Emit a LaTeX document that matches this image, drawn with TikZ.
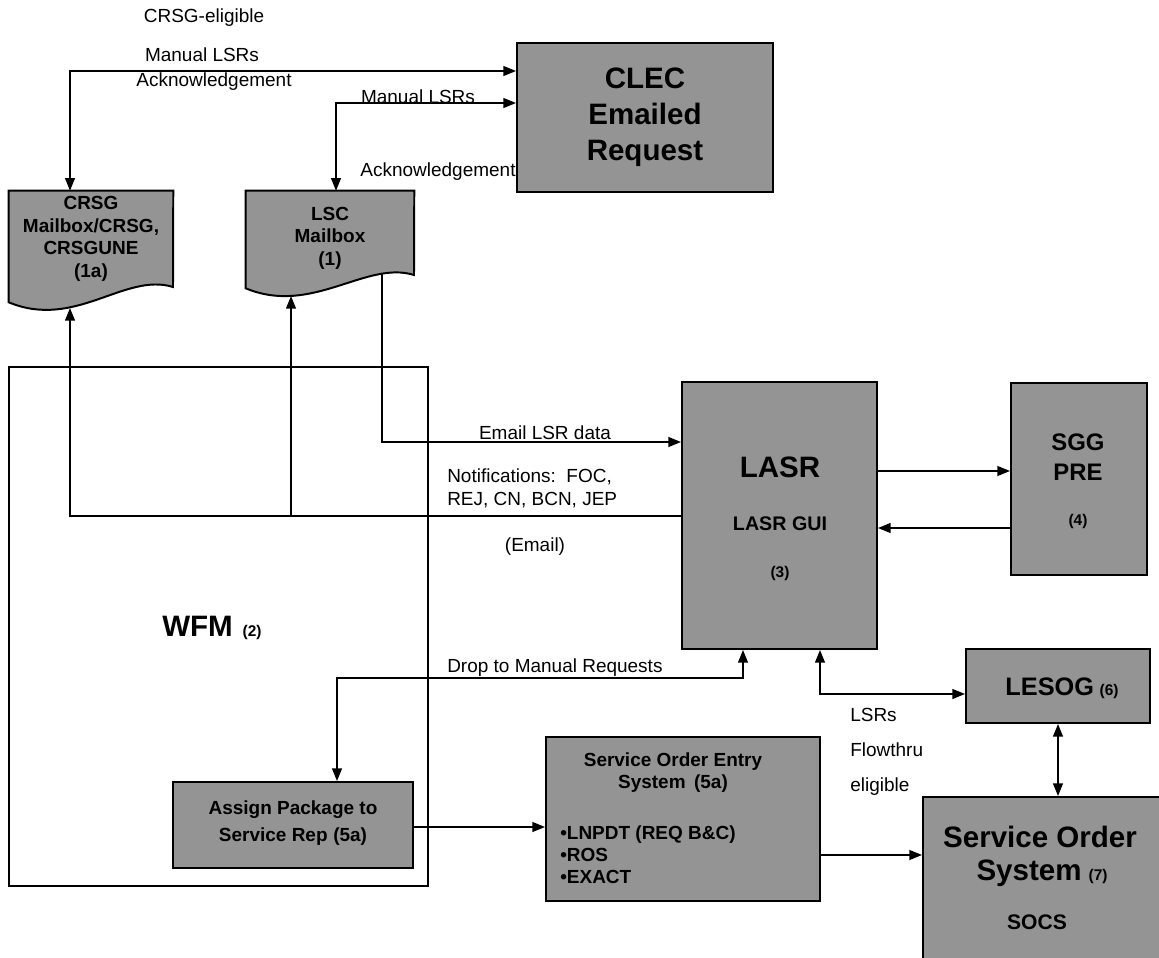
\documentclass[tikz,border=0pt]{standalone}
\usepackage{fontspec}
\setmainfont{Liberation Sans}
\usetikzlibrary{fit,arrows.meta,backgrounds}
\tikzstyle{sys} = [draw=black, line width=1.4pt, fill=black!42, inner sep=0pt]
\tikzstyle{mail} = [inner sep=0pt]
\tikzstyle{frame} = [draw=black, line width=0.9pt, inner sep=0pt]
\tikzstyle{wire} = [line width=1.2pt]
\tikzstyle{lbl} = [font=\fontsize{13.5}{16}\selectfont, inner sep=0pt]
\tikzstyle{mailtext} = [font=\bfseries\fontsize{13.5}{16}\selectfont, align=center, inner sep=0pt]
\tikzstyle{boxtext} = [font=\bfseries\fontsize{13.5}{15.6}\selectfont, align=center, inner sep=0pt]
\tikzstyle{bigtext} = [font=\bfseries\fontsize{21}{25.5}\selectfont, align=center, inner sep=0pt]
\tikzstyle{numtext} = [font=\bfseries\fontsize{11}{13}\selectfont, inner sep=0pt]

\begin{document}
\begin{tikzpicture}[x=0.025cm, y=-0.025cm, >={Triangle[length=9pt,width=7pt]}]
\useasboundingbox (0,0) rectangle (1159,958);

% WFM frame
\node[frame, fit={(9,367) (428,886)}] (wfm) {};
\node[anchor=west, font=\bfseries\fontsize{21}{25}\selectfont, inner sep=0pt] (wfmtitle) at (162,628)
    {WFM\hspace{7pt}{\fontsize{11}{13}\selectfont (2)}};

% mailboxes
\node[mail, fit={(9,191) (173,302)}] (crsg) {};
\node[mail, fit={(246,191) (414,288)}] (lsc) {};
\begin{scope}[on background layer]
\filldraw[sys] (crsg.north west) -- (crsg.north east) -- (173,287)
    .. controls (125,272) and (75,330) .. (crsg.south west) -- cycle;
\filldraw[sys] (lsc.north west) -- (lsc.north east) -- (414,275)
    .. controls (366,260) and (312,316) .. (lsc.south west) -- cycle;
\end{scope}
\node[mailtext] (crsgtext) at (91,239) {CRSG\\Mailbox/CRSG,\\CRSGUNE\\(1a)};
\node[mailtext] (lsctext) at (330,238) {LSC\\Mailbox\\(1)};

% systems
\node[sys, fit={(517,43) (773,192)}] (clec) {};
\node[bigtext] (clectext) at (clec.center) {CLEC\\Emailed\\Request};

\node[sys, fit={(682,382) (877,649)}] (lasr) {};
\node[bigtext] (lasrtitle) at (780,467) {LASR};
\node[boxtext, font=\bfseries\fontsize{14}{16}\selectfont] (lasrgui) at (780,524) {LASR GUI};
\node[numtext] (lasrno) at (780,573) {(3)};

\node[sys, fit={(1011,383) (1147,575)}] (sgg) {};
\node[boxtext, font=\bfseries\fontsize{17}{21}\selectfont] (sggtext) at (1078,457) {SGG\\PRE};
\node[numtext] (sggno) at (1078,522) {(4)};

\node[sys, fit={(966,649) (1150,723)}] (lesog) {};
\node[boxtext, font=\bfseries\fontsize{18}{21}\selectfont] (lesogtext) at (1062,688)
    {LESOG\hspace{4pt}{\fontsize{11}{13}\selectfont (6)}};

\node[sys, fit={(923,797) (1175,975)}] (sos) {};
\node[bigtext] (sostitle) at (1040,837) {Service Order};
\node[bigtext] (sossys) at (1042,873) {System\hspace{5pt}{\fontsize{11}{13}\selectfont (7)}};
\node[boxtext, font=\bfseries\fontsize{15}{18}\selectfont] (socs) at (1037,922) {SOCS};

\node[sys, fit={(546,737) (820,901)}] (soe) {};
\node[boxtext] (soetitle) at (673,773) {Service Order Entry\\System\hspace{6pt}(5a)};
\node[boxtext, align=left, anchor=west] (soelist) at (560,855) {•LNPDT (REQ B\&C)\\•ROS\\•EXACT};

\node[sys, fit={(173,782) (413,868)}] (assign) {};
\node[boxtext, font=\bfseries\fontsize{13.5}{19}\selectfont] (assigntext) at (293,823)
    {Assign Package to\\Service Rep\hspace{4pt}(5a)};

% connectors
\coordinate (crsgbend) at (70,71);
\coordinate (lscbend) at (336,103);
\draw[wire, <->] (crsg.north -| crsgbend) -- (crsgbend) -- (crsgbend -| clec.west);
\draw[wire, <->] (lsc.north -| lscbend) -- (lscbend) -- (lscbend -| clec.west);

\coordinate (lscout) at (382,274);
\coordinate (emailbend) at (382,442);
\draw[wire, ->] (lscout) -- (emailbend) -- (emailbend -| lasr.west);

\coordinate (crsgin) at (70,308);
\coordinate (lscin) at (291,296);
\coordinate (notebend) at (70,516);
\coordinate (notejoin) at (291,516);
\draw[wire, ->] (notebend -| lasr.west) -- (notebend) -- (crsgin);
\draw[wire, ->] (notejoin) -- (lscin);

\coordinate (tosgg) at (940,471);
\coordinate (fromsgg) at (940,528);
\draw[wire, ->] (tosgg -| lasr.east) -- (tosgg -| sgg.west);
\draw[wire, ->] (fromsgg -| sgg.west) -- (fromsgg -| lasr.east);

\coordinate (dropbend) at (337,678);
\coordinate (dropup) at (743,678);
\draw[wire, <->] (assign.north -| dropbend) -- (dropbend) -- (dropup) -- (dropup |- lasr.south);

\coordinate (flowbend) at (820,694);
\draw[wire, <->] (flowbend |- lasr.south) -- (flowbend) -- (flowbend -| lesog.west);

\coordinate (pkgrow) at (480,827);
\draw[wire, ->] (pkgrow -| assign.east) -- (pkgrow -| soe.west);
\coordinate (soerow) at (870,855);
\draw[wire, ->] (soerow -| soe.east) -- (soerow -| sos.west);
\coordinate (socol) at (1058,760);
\draw[wire, <->] (socol |- lesog.south) -- (socol |- sos.north);

% labels
\node[lbl] (crsgelig) at (204,18) {CRSG-eligible};
\node[lbl] (crsgman) at (202,55) {Manual LSRs};
\node[lbl] (crsgack) at (214,82) {Acknowledgement};
\node[lbl] (lscman) at (418,97) {Manual LSRs};
\node[lbl] (lscack) at (438,172) {Acknowledgement};
\node[lbl] (emaildata) at (545,433) {Email LSR data};
\node[lbl, anchor=west] (notes) at (447,477) {Notifications:\ \ FOC,};
\node[lbl, anchor=west] (notecodes) at (447,500) {REJ, CN, BCN, JEP};
\node[lbl] (noteemail) at (535,547) {(Email)};
\node[lbl, anchor=west] (droplbl) at (447,668) {Drop to Manual Requests};
\node[lbl, anchor=west] (lsrs) at (850,715) {LSRs};
\node[lbl, anchor=west] (flowthru) at (850,750) {Flowthru};
\node[lbl, anchor=west] (eligible) at (850,787) {eligible};
\end{tikzpicture}
\end{document}
